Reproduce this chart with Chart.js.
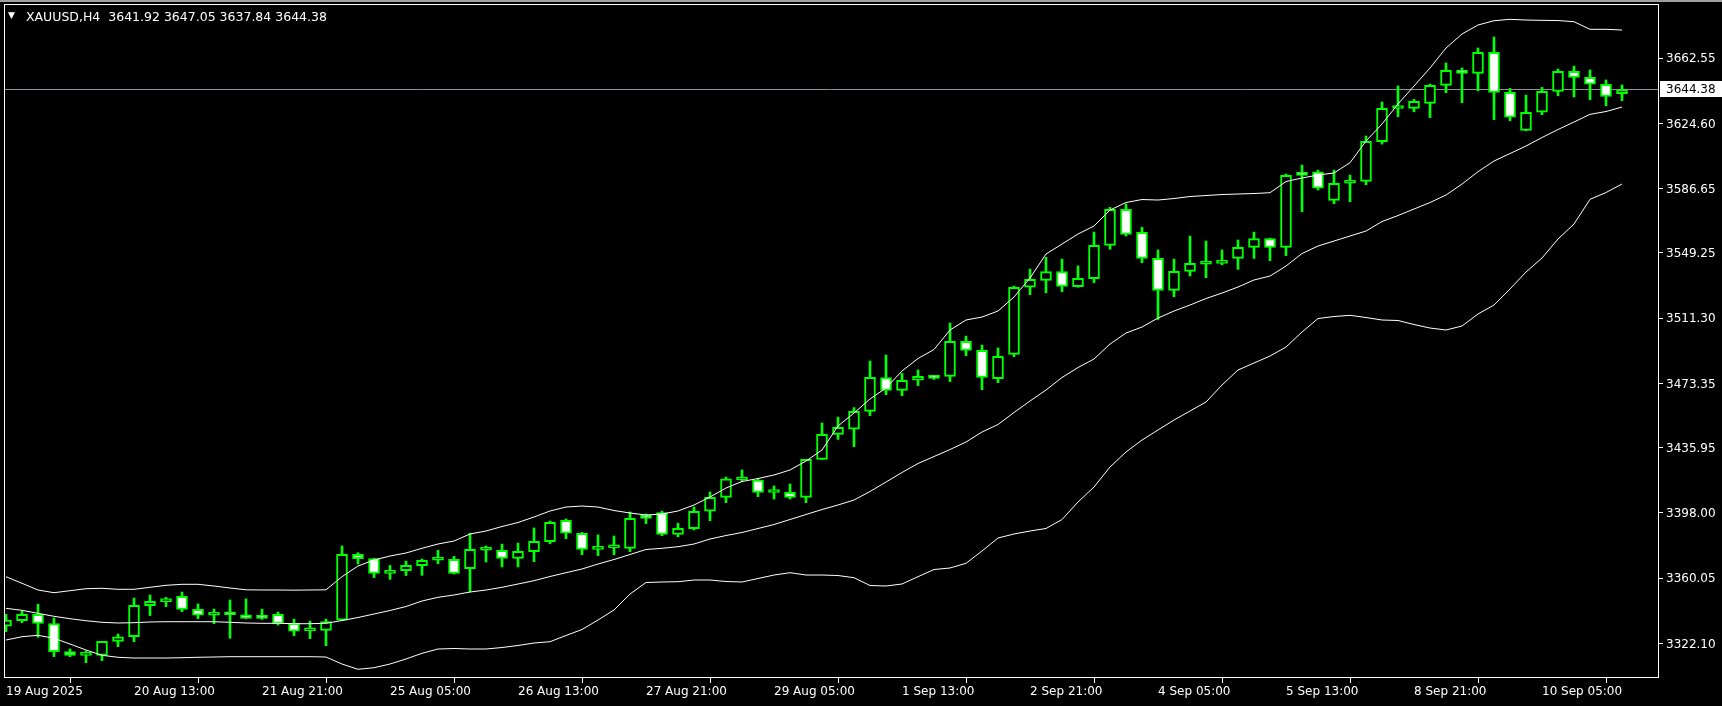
<!DOCTYPE html>
<html>
<head>
<meta charset="utf-8">
<script src="https://cdn.jsdelivr.net/npm/chart.js@4.4.1/dist/chart.umd.min.js"></script>
<style>
    body { margin: 0; background: #000; overflow: hidden; }
    #wrap { position: relative; width: 1722px; height: 706px; }
    #hdr { position: absolute; left: 26px; top: 11px; color: #fff; font: 12.5px "DejaVu Sans"; line-height: 12px; white-space: pre; }
    #tri { position: absolute; left: 8px; top: 11px; color: #fff; font: 9px "DejaVu Sans"; line-height: 9px; }
</style>
</head>
<body>
<div id="wrap">
    <canvas id="chartContainer" width="1722" height="706"></canvas>
    <div id="tri">▼</div>
    <div id="hdr"></div>
</div>
<script>
const symbol = 'XAUUSD,H4';

const opens = [3332.2, 3335.4, 3339.0, 3333.6, 3317.3, 3315.2, 3315.2, 3323.3, 3326.0, 3344.1,
    3346.4, 3349.5, 3341.9, 3338.5, 3340.2, 3338.8, 3338.1, 3339.0, 3333.8, 3329.4,
    3329.7, 3335.6, 3373.9, 3371.4, 3362.9, 3364.4, 3367.3, 3370.5, 3371.0, 3365.6,
    3376.3, 3376.3, 3371.6, 3375.5, 3381.3, 3393.7, 3386.2, 3376.8, 3377.7, 3377.4,
    3396.6, 3398.2, 3385.6, 3388.9, 3399.0, 3407.1, 3417.2, 3417.2, 3409.9, 3410.0,
    3407.1, 3429.2, 3443.7, 3446.7, 3457.1, 3476.7, 3469.3, 3475.2, 3477.9, 3477.5,
    3497.9, 3492.6, 3476.1, 3490.3, 3529.3, 3533.3, 3538.5, 3529.6, 3534.3, 3553.7,
    3574.6, 3561.3, 3546.1, 3527.5, 3538.6, 3542.7, 3543.2, 3546.1, 3552.5, 3557.7,
    3552.5, 3596.2, 3596.5, 3579.9, 3589.8, 3590.9, 3614.0, 3633.3, 3633.4, 3636.3,
    3646.8, 3655.5, 3653.7, 3666.0, 3642.7, 3620.6, 3631.1, 3643.3, 3654.9, 3651.4,
    3647.4, 3641.92];
const highs = [3339.0, 3341.0, 3344.9, 3336.9, 3318.9, 3317.7, 3323.3, 3327.6, 3348.5, 3350.3,
    3348.9, 3352.0, 3345.1, 3342.1, 3347.4, 3348.0, 3342.1, 3340.4, 3336.3, 3335.1,
    3336.3, 3378.8, 3374.9, 3371.6, 3367.5, 3370.0, 3371.2, 3376.3, 3372.8, 3386.1,
    3378.8, 3379.9, 3380.5, 3389.3, 3393.3, 3394.5, 3386.7, 3385.2, 3384.6, 3398.6,
    3397.4, 3399.1, 3392.0, 3401.5, 3410.2, 3418.9, 3423.0, 3417.8, 3413.7, 3414.9,
    3429.2, 3450.3, 3453.8, 3459.3, 3486.4, 3489.9, 3479.2, 3481.2, 3478.0, 3508.5,
    3500.9, 3495.7, 3494.0, 3530.0, 3539.9, 3546.7, 3545.7, 3541.7, 3561.4, 3575.8,
    3577.7, 3564.2, 3551.0, 3545.7, 3559.1, 3556.2, 3551.0, 3556.8, 3561.4, 3557.9,
    3595.2, 3600.4, 3597.5, 3597.5, 3594.6, 3617.3, 3637.1, 3646.4, 3638.6, 3647.5,
    3659.8, 3656.9, 3668.5, 3674.9, 3645.0, 3641.1, 3645.6, 3656.3, 3658.0, 3655.7,
    3649.9, 3647.05];
const lows = [3329.0, 3334.2, 3325.7, 3314.4, 3314.4, 3310.9, 3312.1, 3320.2, 3323.1, 3338.3,
    3343.5, 3340.6, 3336.5, 3333.6, 3325.1, 3336.5, 3336.1, 3332.8, 3326.6, 3324.9,
    3320.8, 3335.4, 3368.3, 3360.4, 3359.4, 3361.6, 3361.7, 3368.5, 3362.5, 3352.0,
    3369.5, 3366.6, 3366.6, 3369.7, 3380.1, 3383.0, 3373.7, 3373.2, 3373.7, 3375.5,
    3391.8, 3384.8, 3384.2, 3388.1, 3393.5, 3404.0, 3416.2, 3407.5, 3406.1, 3406.1,
    3404.0, 3429.0, 3440.8, 3436.6, 3454.6, 3466.8, 3466.2, 3472.1, 3475.7, 3474.4,
    3489.5, 3469.7, 3473.8, 3488.9, 3525.0, 3526.1, 3526.7, 3529.3, 3532.0, 3551.4,
    3559.1, 3543.6, 3510.6, 3523.8, 3535.9, 3534.9, 3542.4, 3539.7, 3546.1, 3544.8,
    3547.7, 3573.3, 3585.9, 3577.9, 3579.1, 3589.0, 3612.6, 3628.5, 3631.4, 3628.0,
    3642.5, 3636.7, 3643.6, 3626.8, 3626.2, 3620.4, 3629.7, 3640.7, 3640.0, 3638.4,
    3634.9, 3637.84];
const closes = [3335.7, 3339.0, 3333.8, 3317.3, 3315.2, 3315.6, 3323.3, 3325.9, 3344.3, 3346.6,
    3348.0, 3341.9, 3338.5, 3340.2, 3338.8, 3336.7, 3336.7, 3333.8, 3329.3, 3329.6,
    3334.8, 3373.9, 3371.4, 3362.9, 3364.6, 3367.5, 3370.4, 3370.8, 3362.9, 3376.8,
    3376.5, 3371.6, 3375.7, 3381.5, 3392.5, 3386.2, 3376.8, 3378.0, 3378.0, 3394.9,
    3394.9, 3385.6, 3389.1, 3399.0, 3407.1, 3417.8, 3417.5, 3410.0, 3410.1, 3407.1,
    3429.2, 3443.7, 3447.8, 3457.1, 3476.9, 3469.3, 3475.2, 3477.5, 3476.3, 3497.9,
    3492.6, 3476.9, 3489.1, 3529.3, 3533.9, 3538.5, 3529.8, 3534.5, 3553.7, 3574.6,
    3560.1, 3546.1, 3527.5, 3538.6, 3543.2, 3542.9, 3545.0, 3552.5, 3557.7, 3552.5,
    3594.4, 3594.4, 3586.9, 3589.8, 3590.9, 3614.2, 3633.4, 3633.5, 3637.5, 3646.8,
    3655.5, 3653.7, 3666.0, 3642.7, 3628.2, 3631.1, 3643.3, 3654.9, 3651.4, 3647.4,
    3640.4, 3644.38];

// bollinger bands
const upperBand = [3360.93, 3357.09, 3353.19, 3351.62, 3352.78, 3353.94, 3354.18, 3353.60, 3353.60, 3354.76,
    3355.92, 3356.51, 3356.51, 3355.52, 3354.35, 3353.30, 3353.20, 3353.20, 3353.10, 3353.20,
    3353.30, 3360.93, 3367.15, 3370.64, 3372.97, 3374.71, 3377.45, 3379.95, 3381.69, 3385.77,
    3387.51, 3390.13, 3392.46, 3395.66, 3399.15, 3401.47, 3402.05, 3401.47, 3399.44, 3397.98,
    3396.82, 3397.40, 3399.15, 3402.64, 3407.29, 3412.53, 3416.31, 3418.05, 3420.09, 3423.00,
    3428.23, 3434.63, 3448.59, 3456.16, 3464.30, 3470.70, 3480.59, 3487.86, 3493.10, 3504.44,
    3510.26, 3512.00, 3515.49, 3523.64, 3534.69, 3548.65, 3554.47, 3560.29, 3564.94, 3574.25,
    3578.61, 3580.35, 3580.06, 3580.94, 3582.10, 3582.68, 3583.26, 3583.55, 3583.85, 3584.31,
    3590.83, 3592.86, 3594.61, 3595.77, 3601.76, 3614.39, 3624.28, 3635.91, 3646.38, 3656.85,
    3668.49, 3676.63, 3681.87, 3684.37, 3685.18, 3684.78, 3684.60, 3684.48, 3683.79, 3679.37,
    3679.37, 3678.96];
const middleBand = [3342.54, 3341.38, 3339.64, 3337.89, 3336.49, 3335.33, 3334.40, 3333.99, 3334.17, 3334.57,
    3334.75, 3334.75, 3334.75, 3334.75, 3334.40, 3333.99, 3333.82, 3333.82, 3333.58, 3333.58,
    3333.82, 3335.45, 3337.19, 3339.23, 3341.26, 3343.59, 3346.79, 3348.94, 3350.28, 3352.03,
    3353.19, 3354.76, 3356.68, 3358.60, 3361.04, 3363.25, 3365.41, 3368.31, 3370.93, 3373.84,
    3376.75, 3377.45, 3378.38, 3379.95, 3382.86, 3384.89, 3386.64, 3388.97, 3391.29, 3394.20,
    3397.11, 3400.02, 3402.64, 3405.54, 3410.49, 3416.02, 3421.54, 3426.78, 3430.85, 3434.92,
    3439.29, 3445.10, 3449.47, 3456.45, 3463.14, 3469.54, 3476.81, 3482.62, 3487.57, 3496.29,
    3502.69, 3506.18, 3511.42, 3515.49, 3518.98, 3522.76, 3525.96, 3529.45, 3533.53, 3535.85,
    3541.67, 3548.94, 3553.30, 3556.21, 3559.12, 3562.03, 3567.56, 3571.05, 3574.83, 3578.61,
    3582.97, 3589.37, 3596.53, 3602.75, 3607.11, 3611.48, 3616.42, 3621.08, 3625.44, 3629.92,
    3631.55, 3634.16];
const lowerBand = [3324.10, 3326.02, 3326.84, 3325.09, 3321.78, 3318.28, 3315.20, 3314.04, 3313.63, 3313.63,
    3313.63, 3313.81, 3314.04, 3314.21, 3314.39, 3314.39, 3314.39, 3314.39, 3314.39, 3314.39,
    3314.21, 3310.14, 3307.06, 3307.99, 3310.14, 3313.05, 3316.37, 3318.87, 3319.16, 3318.87,
    3318.87, 3319.74, 3320.90, 3322.36, 3323.11, 3326.72, 3330.21, 3335.74, 3341.55, 3350.86,
    3357.55, 3357.84, 3358.02, 3359.01, 3359.01, 3358.13, 3357.84, 3359.88, 3361.91, 3363.25,
    3361.91, 3361.91, 3361.62, 3360.34, 3355.81, 3355.52, 3356.68, 3360.93, 3365.11, 3365.99,
    3368.72, 3375.88, 3383.44, 3385.77, 3387.51, 3388.97, 3394.20, 3404.38, 3413.11, 3424.74,
    3433.47, 3440.45, 3446.27, 3452.08, 3457.32, 3462.55, 3472.44, 3481.17, 3485.24, 3489.31,
    3494.55, 3503.28, 3511.13, 3512.29, 3512.99, 3511.71, 3510.26, 3509.97, 3507.64, 3505.60,
    3504.44, 3506.77, 3513.75, 3518.98, 3528.29, 3538.18, 3546.32, 3557.38, 3566.10, 3580.47,
    3584.43, 3589.37];

const xTickIdx = [0, 8, 16, 24, 32, 40, 48, 56, 64, 72, 80, 88, 96];
const xTickLabels = ['19 Aug 2025', '20 Aug 13:00', '21 Aug 21:00', '25 Aug 05:00', '26 Aug 13:00',
    '27 Aug 21:00', '29 Aug 05:00', '1 Sep 13:00', '2 Sep 21:00', '4 Sep 05:00', '5 Sep 13:00',
    '8 Sep 21:00', '10 Sep 05:00'];
const yTicks = [3662.55, 3624.60, 3586.65, 3549.25, 3511.30, 3473.35, 3435.95, 3398.00, 3360.05, 3322.10];

const last = closes.length - 1;
const lastPrice = closes[last];

document.querySelector('#hdr').textContent = `${symbol}  ${opens[last].toFixed(2)} ${highs[last].toFixed(2)} ${lows[last].toFixed(2)} ${closes[last].toFixed(2)}`;

const lime = '#00ff00';
const asPoints = arr => arr.map((v, i) => ({x: i, y: v}));

const framePlugin = {
    id: 'frame',
    beforeDraw(chart) {
        const {ctx} = chart;
        ctx.save();
        ctx.fillStyle = '#000';
        ctx.fillRect(0, 0, chart.width, chart.height);
        ctx.fillStyle = '#a0a0a0';
        ctx.fillRect(0, 0, chart.width, 2);
        ctx.restore();
    },
    beforeDatasetsDraw(chart) {
        const {ctx, chartArea: a, scales: {y}} = chart;
        const py = Math.round(y.getPixelForValue(lastPrice)) + 0.5;
        ctx.save();
        ctx.strokeStyle = '#8a929a';
        ctx.lineWidth = 1;
        ctx.beginPath();
        ctx.moveTo(a.left, py);
        ctx.lineTo(a.right, py);
        ctx.stroke();
        ctx.restore();
    },
    afterDraw(chart) {
        const {ctx, chartArea: a, scales: {y}} = chart;
        ctx.save();
        ctx.strokeStyle = '#fff';
        ctx.lineWidth = 1;
        ctx.strokeRect(a.left + 0.5, a.top + 0.5, a.width - 1, a.height - 1);
        const py = Math.round(y.getPixelForValue(lastPrice));
        ctx.fillStyle = '#fff';
        ctx.fillRect(a.right + 1, py - 8, chart.width - a.right - 1, 16);
        ctx.fillStyle = '#000';
        ctx.font = '12px "DejaVu Sans"';
        ctx.textBaseline = 'middle';
        ctx.fillText(lastPrice.toFixed(2), a.right + 7, py + 1);
        ctx.restore();
    }
};

Chart.defaults.font.family = '"DejaVu Sans"';
Chart.defaults.font.size = 12;
Chart.defaults.color = '#fff';

const bandStyle = {
    type: 'line',
    borderColor: '#ffffff',
    borderWidth: 1,
    pointRadius: 0,
    tension: 0,
    fill: false,
    order: 0
};

new Chart(document.querySelector('#chartContainer'), {
    type: 'bar',
    data: {
        datasets: [
            {...bandStyle, data: asPoints(upperBand)},
            {...bandStyle, data: asPoints(middleBand)},
            {...bandStyle, data: asPoints(lowerBand)},
            {
                data: opens.map((o, i) => ({x: i, y: [o, closes[i]]})),
                backgroundColor: ctx => closes[ctx.dataIndex] < opens[ctx.dataIndex] ? '#ffffff' : '#000000',
                borderColor: lime,
                borderWidth: 2,
                borderSkipped: false,
                barThickness: 11,
                minBarLength: 3,
                grouped: false,
                order: 1
            },
            {
                data: lows.map((l, i) => ({x: i, y: [l, highs[i]]})),
                backgroundColor: lime,
                borderWidth: 0,
                barThickness: 2,
                grouped: false,
                order: 2
            }
        ]
    },
    options: {
        responsive: false,
        animation: false,
        layout: {padding: {left: 4, top: 4, right: 0, bottom: 0}},
        plugins: {legend: {display: false}, tooltip: {enabled: false}},
        scales: {
            x: {
                type: 'linear',
                min: -0.125,
                max: 103.3125,
                offset: false,
                border: {display: false},
                grid: {display: true, drawOnChartArea: false, drawTicks: true, tickLength: 5, color: '#ffffff'},
                ticks: {
                    autoSkip: false,
                    maxRotation: 0,
                    align: 'start',
                    padding: 2,
                    color: '#ffffff',
                    callback: (v, i) => xTickLabels[i]
                },
                afterBuildTicks: axis => { axis.ticks = xTickIdx.map(v => ({value: v})); },
                afterFit: axis => { axis.height = 28; axis.paddingLeft = 0; axis.paddingRight = 0; }
            },
            y: {
                position: 'right',
                min: 3302.0,
                max: 3694.1,
                border: {display: false},
                grid: {display: true, drawOnChartArea: false, drawTicks: true, tickLength: 4, color: '#ffffff'},
                ticks: {
                    padding: 3,
                    labelOffset: 1,
                    color: '#ffffff',
                    callback: v => v.toFixed(2)
                },
                afterBuildTicks: axis => { axis.ticks = yTicks.map(v => ({value: v})); },
                afterFit: axis => { axis.width = 63; axis.paddingTop = 0; axis.paddingBottom = 0; }
            }
        }
    },
    plugins: [framePlugin]
});
</script>
</body>
</html>
